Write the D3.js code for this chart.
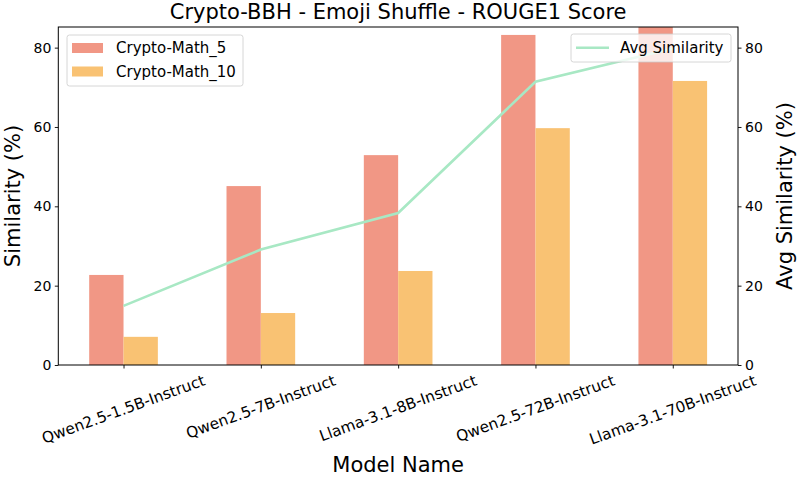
<!DOCTYPE html>
<html><head><meta charset="utf-8">
<script src="https://cdn.jsdelivr.net/npm/d3@7"></script>
<style>body{margin:0;background:#fff}svg{display:block;font-family:"DejaVu Sans",sans-serif}</style>
</head><body><svg id="c" width="797" height="479"></svg>
<script>
const categories = ["Qwen2.5-1.5B-Instruct","Qwen2.5-7B-Instruct","Llama-3.1-8B-Instruct","Qwen2.5-72B-Instruct","Llama-3.1-70B-Instruct"];
const cryptoMath5 = [22.7, 45.1, 52.9, 83.2, 88.0];
const cryptoMath10 = [7.1, 13.1, 23.7, 59.7, 71.6];
const avgSimilarity = [14.9, 29.1, 38.3, 71.4, 79.8];
const yTicks = [0, 20, 40, 60, 80];
const seriesNames = ["Crypto-Math_5", "Crypto-Math_10"];
const lineName = "Avg Similarity";

const svg = d3.select("#c");
const L = 58.3, R = 738, T = 27, B = 365;
const colors = ["#f19785", "#f9c273"];
const lineColor = "#a8e8c4";

const x = d3.scaleLinear().domain([-0.475, categories.length - 1 + 0.475]).range([L, R]);
const y = d3.scaleLinear().domain([0, 85.2]).range([B, T]);
const y2 = d3.scaleLinear().domain([0, 85.2]).range([B, T]);
const bw = 0.25;

svg.append("defs").append("clipPath").attr("id", "clip")
  .append("rect").attr("x", L).attr("y", T).attr("width", R - L).attr("height", B - T);

const plot = svg.append("g").attr("clip-path", "url(#clip)");
[cryptoMath5, cryptoMath10].forEach((vals, si) => {
  plot.selectAll(null).data(vals).enter().append("rect")
    .attr("x", (d, i) => x(i + (si === 0 ? -bw : 0)))
    .attr("width", x(bw) - x(0))
    .attr("y", d => y(d))
    .attr("height", d => B - y(d))
    .attr("fill", colors[si]);
});

const axL = svg.append("g").attr("transform", `translate(${L},0)`)
  .call(d3.axisLeft(y).tickValues(yTicks).tickSize(3.5).tickPadding(3.5));
const axR = svg.append("g").attr("transform", `translate(${R},0)`)
  .call(d3.axisRight(y2).tickValues(yTicks).tickSize(3.5).tickPadding(3.5));
const axB = svg.append("g").attr("transform", `translate(0,${B})`)
  .call(d3.axisBottom(x).tickValues(d3.range(categories.length)).tickSize(3.5).tickFormat(""));
[axL, axR, axB].forEach(a => {
  a.select(".domain").remove();
  a.selectAll("line").attr("stroke", "#000").attr("stroke-width", 0.9);
  a.selectAll("text").attr("font-size", 14).attr("fill", "#000").attr("font-family", "DejaVu Sans");
});
const sp = svg.append("g").attr("stroke", "#000").attr("stroke-width", 1).attr("fill", "none");
sp.append("rect").attr("x", L).attr("y", T).attr("width", R - L).attr("height", B - T);

const lg1 = svg.append("g");
lg1.append("rect").attr("x", 67).attr("y", 35).attr("width", 176).attr("height", 51).attr("rx", 2.5)
  .attr("fill", "#fff").attr("fill-opacity", 0.8).attr("stroke", "#ccc").attr("stroke-width", 0.8);
seriesNames.forEach((n, i) => {
  const yy = 48 + i * 23.5;
  lg1.append("rect").attr("x", 72).attr("y", yy - 5).attr("width", 31).attr("height", 10).attr("fill", colors[i]);
  lg1.append("text").attr("x", 116).attr("y", yy).attr("dy", "0.35em").attr("font-size", 15).text(n);
});

const line = d3.line().x((d, i) => x(i)).y(d => y2(d));
svg.append("path").datum(avgSimilarity).attr("clip-path", "url(#clip)").attr("d", line)
  .attr("fill", "none").attr("stroke", lineColor).attr("stroke-width", 2.6);

const lg2 = svg.append("g");
lg2.append("rect").attr("x", 571).attr("y", 34).attr("width", 160).attr("height", 28).attr("rx", 2.5)
  .attr("fill", "#fff").attr("fill-opacity", 0.8).attr("stroke", "#ccc").attr("stroke-width", 0.8);
lg2.append("line").attr("x1", 576).attr("x2", 609).attr("y1", 47.7).attr("y2", 47.7)
  .attr("stroke", lineColor).attr("stroke-width", 2.6);
lg2.append("text").attr("x", 620).attr("y", 47.7).attr("dy", "0.35em").attr("font-size", 15).text(lineName);

const ang = 20 * Math.PI / 180;
categories.forEach((c, i) => {
  const t = svg.append("text").attr("font-size", 15.3).attr("text-anchor", "middle")
    .attr("dominant-baseline", "central").text(c);
  const w = t.node().getComputedTextLength();
  const h = 17;
  const vert = w * Math.sin(ang) + h * Math.cos(ang);
  const cx = x(i), cy = 372 + vert / 2;
  t.attr("x", cx).attr("y", cy).attr("transform", `rotate(-20,${cx},${cy})`);
});

svg.append("text").attr("x", (L + R) / 2).attr("y", 19).attr("text-anchor", "middle")
  .attr("font-size", 21).text("Crypto-BBH - Emoji Shuffle - ROUGE1 Score");
svg.append("text").attr("x", (L + R) / 2).attr("y", 472).attr("text-anchor", "middle")
  .attr("font-size", 21).text("Model Name");
svg.append("text").attr("transform", `translate(20,${(T + B) / 2}) rotate(-90)`).attr("text-anchor", "middle")
  .attr("font-size", 21).text("Similarity (%)");
svg.append("text").attr("transform", `translate(792,${(T + B) / 2}) rotate(-90)`).attr("text-anchor", "middle")
  .attr("font-size", 21).text("Avg Similarity (%)");
</script></body></html>
